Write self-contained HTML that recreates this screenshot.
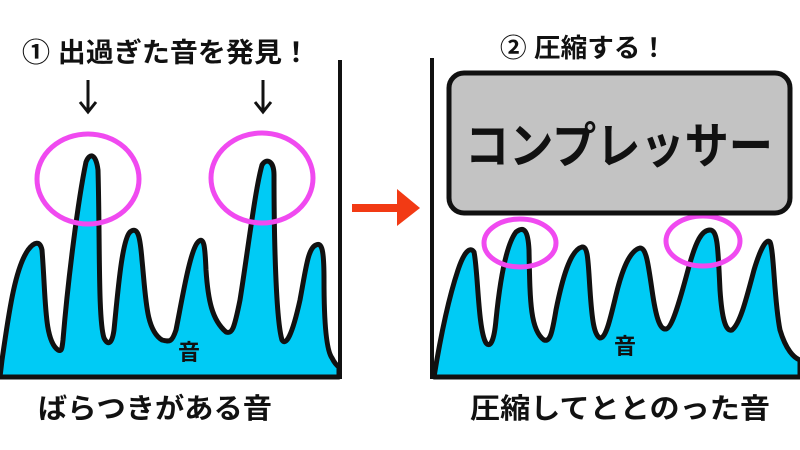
<!DOCTYPE html>
<html><head><meta charset="utf-8"><style>
html,body{margin:0;padding:0;background:#fff;}
svg{display:block}
text{font-family:"Liberation Sans","Noto Sans CJK JP",sans-serif;fill:#111;}
</style></head><body>
<svg width="800" height="450" viewBox="0 0 800 450">
<!-- left panel -->
<path d="M0,377 L2,360 C8,320 14,270 28,250 C34,242 40,240 42,250 C46,300 44,340 58,350 C62,352 62,348 63,340 C68,280 78,200 86,162 C90,152 96,154 98,170 C100,240 98,320 104,338 C108,346 112,344 114,330 C118,290 122,240 130,232 C138,226 140,236 142,260 C146,300 146,330 162,340 C170,342 172,342 176,330 C182,300 190,250 198,242 C204,236 205,246 206,270 C208,300 212,320 226,332 C232,334 234,330 240,300 C248,250 255,190 262,165 C266,158 274,160 274,175 C274,240 276,320 282,340 C286,346 292,336 300,300 C306,268 308,248 316,245 C322,242 324,250 324,280 C324,320 326,350 332,358 C334,362 336,365 339,367 L339,377 Z" fill="#00cbf5" stroke="#111" stroke-width="5" stroke-linejoin="round"/>
<line x1="340" y1="60" x2="340" y2="379" stroke="#111" stroke-width="4"/>
<line x1="0" y1="377" x2="342" y2="377" stroke="#111" stroke-width="4"/>
<ellipse cx="88" cy="179" rx="51" ry="45" fill="none" stroke="#f04af0" stroke-width="5"/>
<ellipse cx="262" cy="178" rx="51" ry="45" fill="none" stroke="#f04af0" stroke-width="5"/>
<text x="22" y="62" font-size="27" font-weight="bold" textLength="288" lengthAdjust="spacingAndGlyphs">① 出過ぎた音を発見！</text>
<g stroke="#111" stroke-width="3" fill="none">
<line x1="88" y1="80" x2="88" y2="110"/><polyline points="80,102 88,112 96,102"/>
<line x1="263" y1="80" x2="263" y2="110"/><polyline points="255,102 263,112 271,102"/>
</g>
<text x="178" y="360" font-size="22" font-weight="bold">音</text>
<text x="38" y="418" font-size="28" font-weight="bold" textLength="234" lengthAdjust="spacingAndGlyphs">ばらつきがある音</text>
<!-- arrow -->
<rect x="352" y="204" width="48" height="8" fill="#f23a14"/>
<polygon points="397,189 420,208 397,226" fill="#f23a14"/>
<!-- right panel -->
<path d="M434,377 C440,340 448,300 458,270 C464,252 470,246 474,252 C478,270 478,330 486,343 C490,348 494,342 496,320 C500,280 506,245 516,232 C524,226 528,230 529,250 C530,300 530,330 544,340 C550,342 552,334 556,310 C562,280 570,250 582,247 C588,246 588,260 590,290 C592,320 594,335 600,338 C606,338 610,320 616,295 C624,262 632,250 640,248 C646,248 648,262 652,290 C656,318 660,330 666,329 C672,328 680,300 688,270 C696,240 702,230 710,230 C718,230 718,250 720,290 C722,320 726,332 732,330 C740,324 746,300 754,270 C760,250 766,238 770,242 C774,250 774,300 780,330 C786,350 794,358 800,360 L800,377 Z" fill="#00cbf5" stroke="#111" stroke-width="5" stroke-linejoin="round"/>
<line x1="432" y1="58" x2="432" y2="379" stroke="#111" stroke-width="4"/>
<line x1="430" y1="377" x2="800" y2="377" stroke="#111" stroke-width="4"/>
<ellipse cx="520" cy="243" rx="36" ry="24" fill="none" stroke="#f04af0" stroke-width="5"/>
<ellipse cx="703" cy="241" rx="37" ry="25" fill="none" stroke="#f04af0" stroke-width="5"/>
<rect x="449" y="73" width="341" height="140" rx="15" fill="#c3c3c3" stroke="#111" stroke-width="5"/>
<text x="619" y="163" font-size="49" font-weight="bold" text-anchor="middle" textLength="308" lengthAdjust="spacingAndGlyphs">コンプレッサー</text>
<text x="500" y="57" font-size="26" font-weight="bold" textLength="167" lengthAdjust="spacingAndGlyphs">② 圧縮する！</text>
<text x="614" y="354" font-size="22" font-weight="bold">音</text>
<text x="470" y="418" font-size="28" font-weight="bold" textLength="300" lengthAdjust="spacingAndGlyphs">圧縮してととのった音</text>
</svg>
</body></html>
